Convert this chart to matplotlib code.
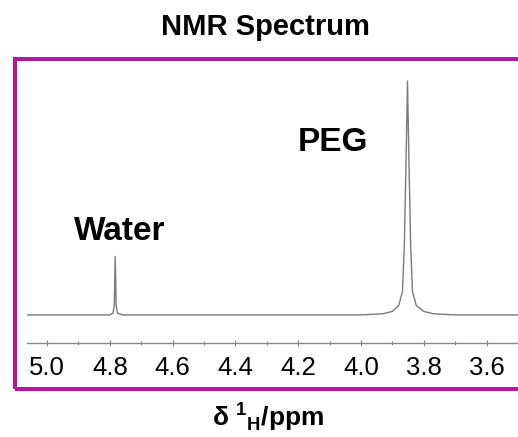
import matplotlib
matplotlib.use('Agg')
import matplotlib.pyplot as plt
from matplotlib.patches import Rectangle

plt.rcParams['font.family'] = ['Liberation Sans', 'DejaVu Sans']
plt.rcParams['mathtext.fontset'] = 'custom'
plt.rcParams['mathtext.rm'] = 'Liberation Sans'
plt.rcParams['mathtext.bf'] = 'Liberation Sans:bold'

# spectrum points (ppm, intensity)
ppm = [5.07, 4.80, 4.790, 4.786, 4.783, 4.780, 4.776, 4.76,
       4.00, 3.93, 3.90, 3.88, 3.868, 3.862, 3.856, 3.852,
       3.848, 3.842, 3.836, 3.824, 3.80, 3.77, 3.70, 3.49]
intensity = [0, 0, 0.8, 4, 25, 4, 0.8, 0,
             0, 0.5, 1.5, 4, 10, 30, 70, 100,
             70, 30, 10, 4, 1.5, 0.5, 0, 0]

tick_vals = [5.0, 4.8, 4.6, 4.4, 4.2, 4.0, 3.8, 3.6]
tick_labels = ['5.0', '4.8', '4.6', '4.4', '4.2', '4.0', '3.8', '3.6']

W, H = 518, 437
fig = plt.figure(figsize=(W / 100, H / 100), dpi=100)
ax = fig.add_axes([27 / W, 1 - 343 / H, 1 - 27 / W, (343 - 60) / H])

ax.plot(ppm, intensity, color='#7a7a7a', lw=1.0)
ax.set_xlim(5.064, 3.501)
ax.set_ylim(-12, 109)

for s in ['left', 'right', 'top']:
    ax.spines[s].set_visible(False)
ax.spines['bottom'].set_color('#888888')
ax.spines['bottom'].set_linewidth(1.0)
ax.set_yticks([])
ax.set_xticks(tick_vals)
ax.set_xticklabels(tick_labels)
ax.set_xticks([4.9, 4.7, 4.5, 4.3, 4.1, 3.9, 3.7, 3.5], minor=True)
ax.tick_params(axis='x', which='major', direction='inout', length=5, width=0.8,
               color='#888888', labelsize=18.5, pad=7, labelcolor='black')
ax.tick_params(axis='x', which='minor', direction='inout', length=3, width=0.8,
               color='#888888')

ax.text(4.769, 32, 'Water', fontsize=24, weight='bold', ha='center', va='baseline')
ax.text(4.088, 70, 'PEG', fontsize=24, weight='bold', ha='center', va='baseline')

# magenta frame, running off the right edge
fig.patches.append(Rectangle((15 / W, 1 - 389 / H), 600 / W, (389 - 59) / H,
                             transform=fig.transFigure, fill=False,
                             edgecolor='#b3179e', lw=2.9, clip_on=False))

fig.text(265 / W, 1 - 35 / H, 'NMR Spectrum', fontsize=21, weight='bold',
         ha='center', va='baseline')
fig.text(268 / W, 1 - 426 / H, r'δ $^{\mathbf{1}}$$_{\mathbf{H}}$/ppm', fontsize=19,
         weight='bold', ha='center', va='baseline')

fig.savefig('out.png', dpi=100)
